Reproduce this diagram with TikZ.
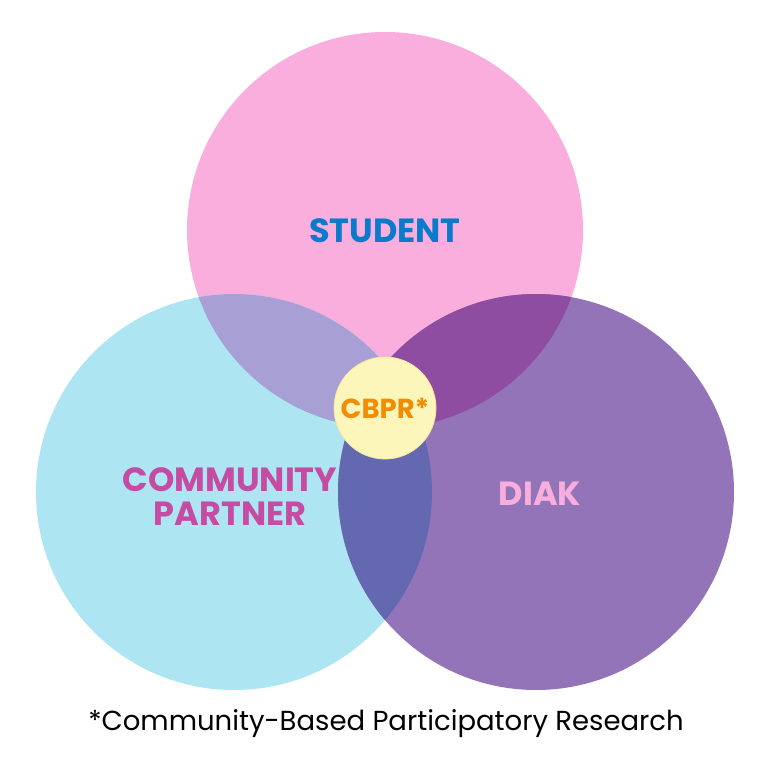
\documentclass[tikz,border=0pt]{standalone}
\usepackage{fontspec}
\setmainfont{Poppins}
\usepackage{xcolor}
\usepackage{tikz}
\usetikzlibrary{positioning}

\definecolor{pinkfill}{HTML}{F9AEDE}
\definecolor{cyanfill}{HTML}{ADE5F3}
\definecolor{purplefill}{HTML}{9474B9}
\definecolor{pinkcyan}{HTML}{A89FD4}
\definecolor{pinkpurple}{HTML}{8E4DA1}
\definecolor{cyanpurple}{HTML}{6468B0}
\definecolor{corefill}{HTML}{FDF6BA}
\definecolor{coreline}{HTML}{F3E6A2}
\definecolor{studentblue}{HTML}{0A7BCB}
\definecolor{partnermagenta}{HTML}{C54BA3}
\definecolor{diakpink}{HTML}{F8AEDD}
\definecolor{cbprorange}{HTML}{F28C00}

\begin{document}
\begin{tikzpicture}[
        x=1pt, y=-1pt,
        venn_circle/.style={circle, minimum size=396pt, inner sep=0pt},
        core_circle/.style={circle, minimum size=102pt, inner sep=0pt, fill=corefill, draw=coreline, line width=0.8pt},
        venn_label/.style={font=\bfseries\fontsize{33.5}{34}\selectfont, align=center},
        note/.style={font=\fontsize{27.5}{30}\selectfont}
    ]
    \useasboundingbox (0,0) rectangle (770,770);
    \node[venn_circle, fill=pinkfill] (student) at (385,230) {};
    \node[venn_circle, fill=cyanfill] (partner) at (234,492) {};
    \node[venn_circle, fill=purplefill] (diak) at (536,492) {};
    % overlaps
    \begin{scope}
        \clip (385,230) circle (198pt);
        \fill[pinkcyan] (234,492) circle (198pt);
        \fill[pinkpurple] (536,492) circle (198pt);
    \end{scope}
    \begin{scope}
        \clip (234,492) circle (198pt);
        \fill[cyanpurple] (536,492) circle (198pt);
    \end{scope}
    \node[core_circle] (core) at (385,408) {};
    \node[venn_label, text=studentblue] (student_label) at (385,231) {STUDENT};
    \node[venn_label, text=partnermagenta] (partner_label) at (230,497) {COMMUNITY\\PARTNER};
    \node[venn_label, text=diakpink] (diak_label) at (540,494) {DIAK};
    \node[venn_label, text=cbprorange, font=\bfseries\fontsize{27.5}{30}\selectfont] (cbpr_label) at (core) {CBPR*};
    \node[note] (footnote) at (386,724) {*Community-Based Participatory Research};
\end{tikzpicture}
\end{document}
